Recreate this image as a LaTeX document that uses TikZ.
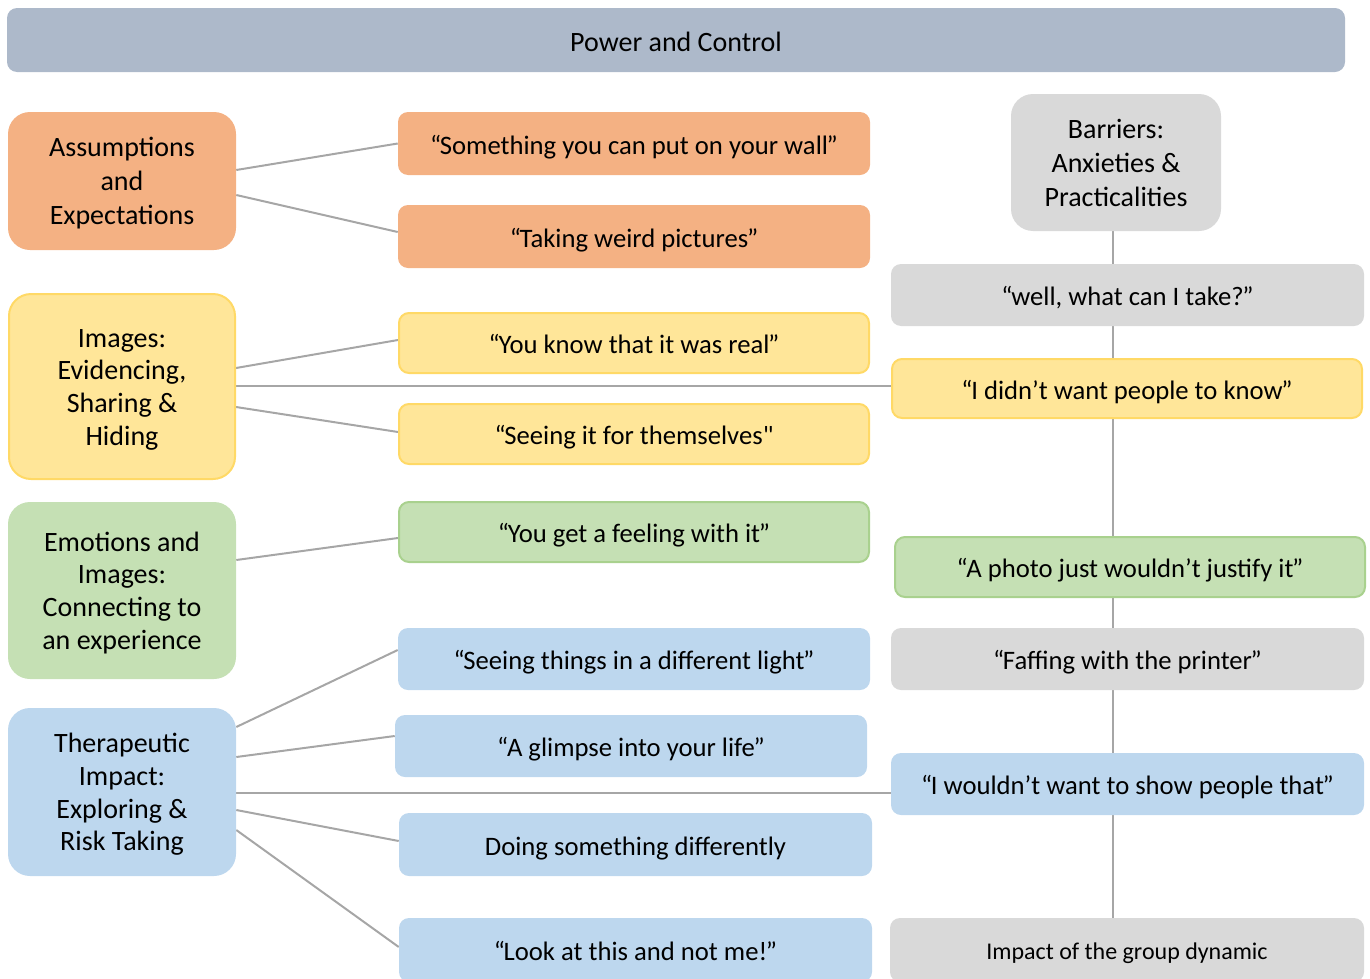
\documentclass[tikz,border=0pt]{standalone}
\usepackage{fontspec}
\setmainfont{Carlito}
\newfontfamily\plainfont{Carlito}
\definecolor{titlec}{HTML}{ADB9CA}
\definecolor{orangec}{HTML}{F4B183}
\definecolor{yellowc}{HTML}{FFE699}
\definecolor{yellowb}{HTML}{FFD966}
\definecolor{greenc}{HTML}{C5E0B4}
\definecolor{greenb}{HTML}{A9D18E}
\definecolor{bluec}{HTML}{BDD7EE}
\definecolor{grayc}{HTML}{D9D9D9}
\definecolor{linec}{HTML}{A6A6A6}
\usetikzlibrary{backgrounds}
\newcommand{\oq}{“\kern-1pt}
\newcommand{\cq}{\kern-1pt”}
\newcommand{\sq}{{\plainfont"}}
\newcommand{\up}{\rule{0pt}{1.0em}}
\begin{document}
\begin{tikzpicture}[x=0.75pt,y=-0.75pt,
  area/.style args={#1,#2,#3,#4}{at={({(#1+#3)/2},{(#2+#4)/2})},
     minimum width={(#3-#1)*0.75pt}, minimum height={(#4-#2)*0.75pt}},
  box/.style={inner sep=0pt, align=center, font=\fontsize{20}{24.4}\selectfont, rounded corners=7.5pt,
     execute at begin node={\rule{0pt}{1.1em}},
     execute at end node={\rule[-0.3em]{0pt}{0pt}}},
  bigbox/.style={box, rounded corners=16.5pt, font=\fontsize{21}{25.6}\selectfont},
  fourlines/.style={font=\fontsize{21}{24.5}\selectfont},
  orangebox/.style={fill=orangec},
  yellowbox/.style={fill=yellowc, draw=yellowb, line width=1.5pt},
  greenbox/.style={fill=greenc, draw=greenb, line width=1.5pt},
  bluebox/.style={fill=bluec},
  graybox/.style={fill=grayc},
  conn/.style={draw=linec, line width=1.5pt}]
\useasboundingbox (0,0) rectangle (1370,978);

\node[box, font=\fontsize{21}{25.6}\selectfont, fill=titlec, area={7,8,1345,72}] (title) {Power and Control};

% left column
\node[bigbox, orangebox, area={8,112,236,250}] (assump) {\up Assumptions\\and\\Expectations};
\node[bigbox, fourlines, yellowbox, area={9,294,235,479}] (images) {\up Images:\\Evidencing,\\Sharing \&\\Hiding};
\node[bigbox, fourlines, fill=greenc, area={8,502,236,679}] (emot) {\up Emotions and\\Images:\\Connecting to\\an experience};
\node[bigbox, fourlines, bluebox, area={8,708,236,876}] (ther) {\up Therapeutic\\Impact:\\Exploring \&\\Risk Taking};

% middle column
\node[box, orangebox, area={398,112,870,175}] (wall) {\oq Something you can put on your wall\cq};
\node[box, orangebox, area={398,205,870,268}] (weird) {\oq Taking weird pictures\cq};
\node[box, yellowbox, area={399,313,869,373}] (real) {\oq You know that it was real\cq};
\node[box, yellowbox, area={399,404,869,464}] (seeing) {\oq Seeing it for themselves\sq};
\node[box, greenbox, area={399,502,869,562}] (feel) {\oq You get a feeling with it\cq};
\node[box, bluebox, area={398,628,870,690}] (light) {\oq Seeing things in a different light\cq};
\node[box, bluebox, area={395,715,867,777}] (glimpse) {\oq A glimpse into your life\cq};
\node[box, bluebox, area={399,813,872,876}] (diff) {Doing something differently};
\node[box, bluebox, area={399,918,872,982}] (look) {\oq Look at this and not me!\cq};

% right column
\node[bigbox, graybox, area={1011,94,1221,231}] (barr) {\up Barriers:\\Anxieties \&\\Practicalities};
\node[box, graybox, area={891,264,1364,326}] (take) {\oq well, what can I take?\cq};
\node[box, yellowbox, area={892,359,1362,418}] (know) {\oq I didn’t want people to know\cq};
\node[box, greenbox, area={895,537,1365,597}] (justify) {\oq A photo just wouldn’t justify it\cq};
\node[box, graybox, area={891,628,1364,690}] (faff) {\oq Faffing with the printer\cq};
\node[box, bluebox, area={891,753,1364,815}] (show) {\oq I wouldn’t want to show people that\cq};
\node[box, graybox, font=\fontsize{18}{22}\selectfont, area={890,918,1364,982}] (group) {Impact of the group dynamic};

\begin{scope}[on background layer]
\draw[conn] ([xshift=-2.25pt]barr.south) -- ([xshift=-2.25pt]barr.south |- group.north);
\draw[conn] (assump.east |- 0,170) -- (wall.west);
\draw[conn] (assump.east |- 0,195) -- (weird.west |- 0,232);
\draw[conn] (images.east |- 0,368) -- (real.west |- 0,340);
\draw[conn] (images.east |- 0,386) -- (know.west |- 0,386);
\draw[conn] (images.east |- 0,407) -- (seeing.west |- 0,432);
\draw[conn] (emot.east |- 0,560) -- (feel.west |- 0,538);
\draw[conn] (ther.east |- 0,727) -- (light.west |- 0,650);
\draw[conn] (ther.east |- 0,757) -- (glimpse.west |- 0,736);
\draw[conn] (ther.east |- 0,793) -- (show.west |- 0,793);
\draw[conn] (ther.east |- 0,810) -- (diff.west |- 0,841);
\draw[conn] (ther.east |- 0,830) -- (look.west |- 0,947);
\end{scope}
\end{tikzpicture}
\end{document}
